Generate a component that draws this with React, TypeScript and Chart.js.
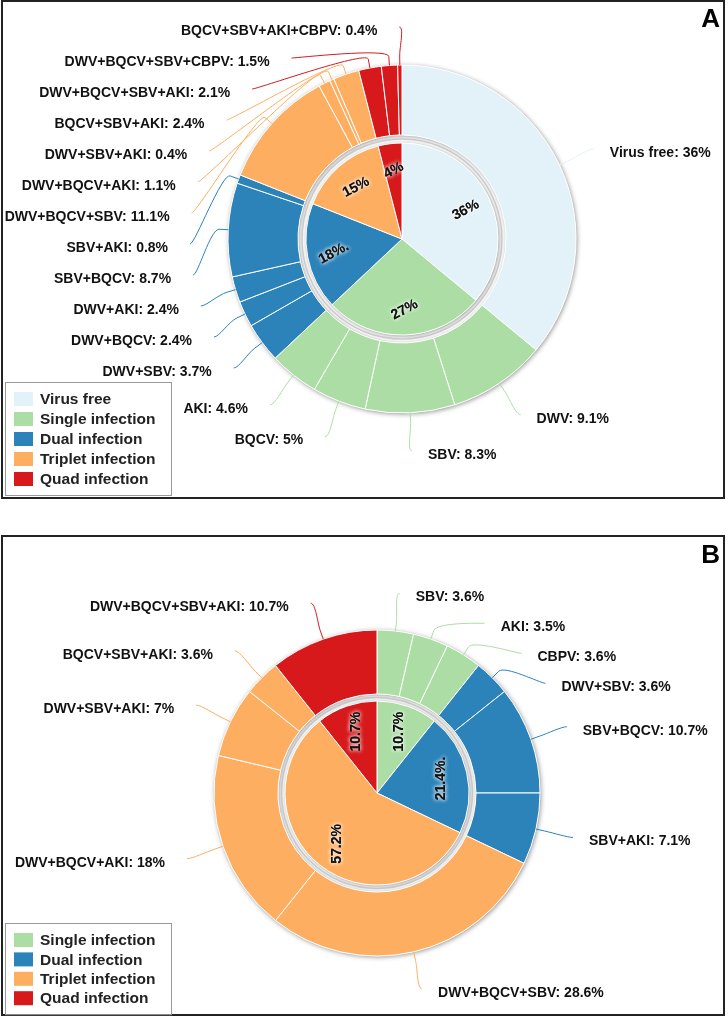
import React, { useEffect, useRef } from 'react';
import { Chart, registerables } from 'chart.js';

Chart.register(...registerables);

// ---------------- Panel A data ----------------
const groupNamesA = ['Virus free', 'Single infection', 'Dual infection', 'Triplet infection', 'Quad infection'];
const groupValuesA = [36, 27, 18, 15, 4];
const groupLabelsA = ['36%', '27%', '18%.', '15%', '4%'];
const groupColorsA = ['#e3f1f9', '#abdda4', '#2b83ba', '#fdae61', '#d7191c'];
const subsetNamesA = [
  'Virus free', 'DWV', 'SBV', 'BQCV', 'AKI',
  'DWV+SBV', 'DWV+BQCV', 'DWV+AKI', 'SBV+BQCV', 'SBV+AKI',
  'DWV+BQCV+SBV', 'DWV+BQCV+AKI', 'DWV+SBV+AKI', 'BQCV+SBV+AKI',
  'DWV+BQCV+SBV+AKI', 'DWV+BQCV+SBV+CBPV', 'BQCV+SBV+AKI+CBPV',
];
const subsetValuesA = [36, 9.1, 8.3, 5, 4.6, 3.7, 2.4, 2.4, 8.7, 0.8, 11.1, 1.1, 0.4, 2.4, 2.1, 1.5, 0.4];
const subsetGroupA = [0, 1, 1, 1, 1, 2, 2, 2, 2, 2, 3, 3, 3, 3, 4, 4, 4];

// ---------------- Panel B data ----------------
const groupNamesB = ['Single infection', 'Dual infection', 'Triplet infection', 'Quad infection'];
const groupValuesB = [10.7, 21.4, 57.2, 10.7];
const groupLabelsB = ['10.7%', '21.4%.', '57.2%', '10.7%'];
const groupColorsB = ['#abdda4', '#2b83ba', '#fdae61', '#d7191c'];
const subsetNamesB = [
  'SBV', 'AKI', 'CBPV', 'DWV+SBV', 'SBV+BQCV', 'SBV+AKI',
  'DWV+BQCV+SBV', 'DWV+BQCV+AKI', 'DWV+SBV+AKI', 'BQCV+SBV+AKI', 'DWV+BQCV+SBV+AKI',
];
const subsetValuesB = [3.6, 3.5, 3.6, 3.6, 10.7, 7.1, 28.6, 18, 7, 3.6, 10.7];
const subsetGroupB = [0, 0, 0, 1, 1, 1, 2, 2, 2, 2, 3];

const FONT = "'Liberation Sans', Arial, Helvetica, sans-serif";

interface PanelSpec {
  groupNames: string[];
  groupValues: number[];
  groupLabels: string[];
  groupColors: string[];
  subsetNames: string[];
  subsetValues: number[];
  subsetGroup: number[];
  letter: string;
  pageTop: number;
  canvasH: number;
  padding: { left: number; right: number; top: number; bottom: number };
  radius: number;
  outerWeight: number;
  gapWeight: number;
  innerWeight: number;
  labelDistance: number;
  labelSpacing: number;
  breakOffset: number;
  gapLeft: number;
  gapRight: number;
  textDy: number;
  innerInset: number;
  innerRotation: number;
  frame: { x: number; y: number; w: number; h: number };
  letterBaseline: number;
  legend: { x: number; y: number; w: number; rowH: number };
}

const panelA: PanelSpec = {
  groupNames: groupNamesA,
  groupValues: groupValuesA,
  groupLabels: groupLabelsA,
  groupColors: groupColorsA,
  subsetNames: subsetNamesA,
  subsetValues: subsetValuesA,
  subsetGroup: subsetGroupA,
  letter: 'A',
  pageTop: 0,
  canvasH: 505,
  padding: { left: 76, right: 0, top: 0, bottom: 27 },
  radius: 174,
  outerWeight: 70,
  gapWeight: 8,
  innerWeight: 96,
  labelDistance: 38,
  labelSpacing: 31,
  breakOffset: 9,
  gapLeft: 22,
  gapRight: 16,
  textDy: 4,
  innerInset: 26,
  innerRotation: -28,
  frame: { x: 2, y: 1, w: 722, h: 497 },
  letterBaseline: 27,
  legend: { x: 5, y: 382, w: 166, rowH: 20 },
};

const panelB: PanelSpec = {
  groupNames: groupNamesB,
  groupValues: groupValuesB,
  groupLabels: groupLabelsB,
  groupColors: groupColorsB,
  subsetNames: subsetNamesB,
  subsetValues: subsetValuesB,
  subsetGroup: subsetGroupB,
  letter: 'B',
  pageTop: 510,
  canvasH: 510,
  padding: { left: 26, right: 0, top: 56, bottom: 0 },
  radius: 163,
  outerWeight: 64,
  gapWeight: 7,
  innerWeight: 92,
  labelDistance: 38,
  labelSpacing: 30,
  breakOffset: 9,
  gapLeft: 22,
  gapRight: 16,
  textDy: 4,
  innerInset: 27,
  innerRotation: -90,
  frame: { x: 2, y: 26, w: 722, h: 479 },
  letterBaseline: 53,
  legend: { x: 5, y: 413, w: 166, rowH: 19.4 },
};

function nestedPiePlugin(p: PanelSpec) {
  return {
    id: 'nestedPie' + p.letter,
    beforeDatasetsDraw(chart: any) {
      const ctx: CanvasRenderingContext2D = chart.ctx;
      const outer = chart.getDatasetMeta(0).data[0];
      const inner = chart.getDatasetMeta(2).data[0];
      const cx = outer.x, cy = outer.y;
      ctx.save();
      ctx.fillStyle = '#ffffff';
      ctx.shadowColor = 'rgba(0,0,0,0.45)';
      ctx.shadowBlur = 5;
      ctx.shadowOffsetX = 1;
      ctx.shadowOffsetY = 1;
      ctx.beginPath();
      ctx.arc(cx, cy, outer.outerRadius, 0, Math.PI * 2);
      ctx.arc(cx, cy, outer.innerRadius, 0, Math.PI * 2, true);
      ctx.fill();
      ctx.beginPath();
      ctx.arc(cx, cy, inner.outerRadius, 0, Math.PI * 2);
      ctx.fill();
      ctx.restore();
      // light grey ring inside the gap
      ctx.save();
      ctx.strokeStyle = 'rgba(170,170,170,0.55)';
      ctx.lineWidth = 1.5;
      ctx.beginPath();
      ctx.arc(cx, cy, (outer.innerRadius + inner.outerRadius) / 2, 0, Math.PI * 2);
      ctx.stroke();
      ctx.restore();
    },
    afterDatasetsDraw(chart: any) {
      const ctx: CanvasRenderingContext2D = chart.ctx;
      const outerMeta = chart.getDatasetMeta(0);
      const innerMeta = chart.getDatasetMeta(2);
      const a0 = outerMeta.data[0];
      const cx = a0.x, cy = a0.y, R = a0.outerRadius;
      const L = R + p.labelDistance;

      // ---- outer labels with connectors ----
      const items = outerMeta.data.map((arc: any, i: number) => {
        const a = (arc.startAngle + arc.endAngle) / 2;
        return { i, a, left: Math.cos(a) < 0, natural: cy + L * Math.sin(a), y: 0 };
      });
      [true, false].forEach((side) => {
        const list = items.filter((it: any) => it.left === side).sort((u: any, v: any) => u.natural - v.natural);
        let prev = -Infinity;
        list.forEach((it: any) => {
          it.y = Math.max(it.natural, prev + p.labelSpacing);
          prev = it.y;
        });
      });
      ctx.save();
      items.forEach((it: any) => {
        const color = p.groupColors[p.subsetGroup[it.i]];
        const tx = cx + R * Math.cos(it.a), ty = cy + R * Math.sin(it.a);
        const kx = cx + (R + p.breakOffset) * Math.cos(it.a), ky = cy + (R + p.breakOffset) * Math.sin(it.a);
        const dy = it.y - cy;
        const dx = Math.sqrt(Math.max(0, L * L - dy * dy));
        const X = it.left ? cx - dx : cx + dx;
        ctx.beginPath();
        ctx.moveTo(X, it.y);
        ctx.bezierCurveTo(X + (it.left ? 5 : -5), it.y, 2 * kx - tx, 2 * ky - ty, kx, ky);
        ctx.lineTo(tx, ty);
        ctx.strokeStyle = color;
        ctx.lineWidth = 1;
        ctx.stroke();
        ctx.font = `bold 14px ${FONT}`;
        ctx.fillStyle = '#111';
        ctx.textBaseline = 'middle';
        ctx.textAlign = it.left ? 'right' : 'left';
        const text = `${p.subsetNames[it.i]}: ${p.subsetValues[it.i]}%`;
        ctx.fillText(text, it.left ? X - p.gapLeft : X + p.gapRight, it.y + p.textDy);
      });
      ctx.restore();

      // ---- inner labels ----
      const inner0 = innerMeta.data[0];
      const rl = inner0.outerRadius - p.innerInset;
      innerMeta.data.forEach((arc: any, i: number) => {
        const a = (arc.startAngle + arc.endAngle) / 2;
        const x = cx + rl * Math.cos(a), y = cy + rl * Math.sin(a);
        ctx.save();
        ctx.translate(x, y);
        ctx.rotate((p.innerRotation * Math.PI) / 180);
        ctx.font = `bold 14px ${FONT}`;
        ctx.textAlign = 'center';
        ctx.textBaseline = 'middle';
        ctx.shadowColor = 'rgba(255,255,255,0.95)';
        ctx.shadowBlur = 4;
        ctx.fillStyle = '#111';
        ctx.fillText(p.groupLabels[i], 0, 1);
        ctx.fillText(p.groupLabels[i], 0, 1);
        ctx.restore();
      });
    },
    afterDraw(chart: any) {
      const ctx: CanvasRenderingContext2D = chart.ctx;
      // ---- frame ----
      ctx.save();
      ctx.strokeStyle = '#222';
      ctx.lineWidth = 2;
      ctx.strokeRect(p.frame.x, p.frame.y, p.frame.w, p.frame.h);
      // ---- panel letter ----
      ctx.font = `bold 26px ${FONT}`;
      ctx.fillStyle = '#000';
      ctx.textAlign = 'right';
      ctx.textBaseline = 'alphabetic';
      ctx.fillText(p.letter, p.frame.x + p.frame.w - 4, p.letterBaseline);
      // ---- legend ----
      const n = p.groupNames.length;
      const lg = p.legend;
      const h = 33 + (n - 1) * lg.rowH;
      ctx.fillStyle = '#fff';
      ctx.fillRect(lg.x, lg.y, lg.w, h);
      ctx.strokeStyle = '#9a9a9a';
      ctx.lineWidth = 1;
      ctx.strokeRect(lg.x + 0.5, lg.y + 0.5, lg.w, h);
      p.groupNames.forEach((name, i) => {
        const yc = lg.y + 17 + i * lg.rowH;
        ctx.fillStyle = p.groupColors[i];
        ctx.fillRect(lg.x + 9, yc - 7, 19, 14);
        ctx.fillStyle = '#222';
        ctx.font = `bold 15.5px ${FONT}`;
        ctx.textAlign = 'left';
        ctx.textBaseline = 'middle';
        ctx.fillText(name, lg.x + 35, yc + 1);
      });
      ctx.restore();
    },
  };
}

function Panel({ spec }: { spec: PanelSpec }) {
  const ref = useRef<HTMLCanvasElement | null>(null);
  useEffect(() => {
    if (!ref.current) return;
    const outerColors = spec.subsetGroup.map((g) => spec.groupColors[g]);
    const chart = new Chart(ref.current, {
      type: 'doughnut',
      data: {
        labels: spec.subsetNames,
        datasets: [
          {
            data: spec.subsetValues,
            backgroundColor: outerColors,
            borderColor: '#ffffff',
            borderWidth: 1,
            weight: spec.outerWeight,
          } as any,
          {
            data: [1],
            backgroundColor: ['rgba(0,0,0,0)'],
            borderWidth: 0,
            weight: spec.gapWeight,
          } as any,
          {
            data: spec.groupValues,
            backgroundColor: spec.groupColors,
            borderColor: '#ffffff',
            borderWidth: 1,
            weight: spec.innerWeight,
          } as any,
        ],
      },
      options: {
        responsive: false,
        animation: false,
        events: [],
        cutout: 0,
        radius: spec.radius,
        layout: { padding: spec.padding },
        plugins: {
          legend: { display: false },
          tooltip: { enabled: false },
        },
      } as any,
      plugins: [nestedPiePlugin(spec)],
    });
    return () => chart.destroy();
  }, [spec]);
  return (
    <canvas
      ref={ref}
      width={728}
      height={spec.canvasH}
      style={{ position: 'absolute', left: 0, top: spec.pageTop, width: 728, height: spec.canvasH }}
    />
  );
}

export default function App() {
  return (
    <div style={{ position: 'absolute', left: 0, top: 0, width: 728, height: 1020, background: '#fff' }}>
      <Panel spec={panelA} />
      <Panel spec={panelB} />
    </div>
  );
}
